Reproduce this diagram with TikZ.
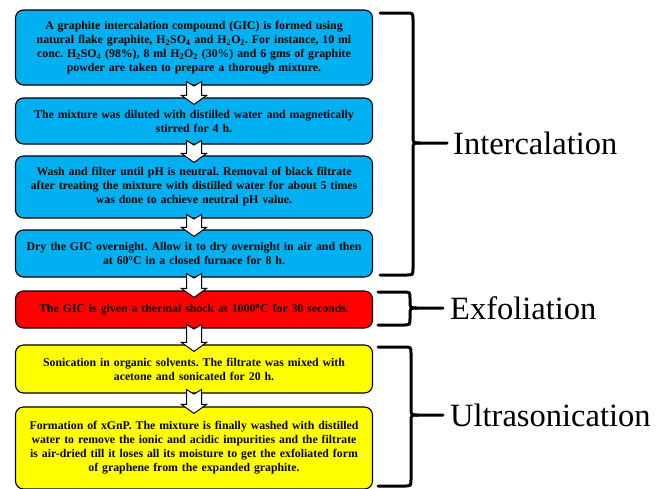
\documentclass[tikz,border=0pt]{standalone}
\usepackage{fontspec}
\setmainfont{Liberation Serif}
\usetikzlibrary{calc}
\definecolor{boxblue}{HTML}{00B0F0}
\definecolor{boxred}{HTML}{FF0000}
\definecolor{boxyellow}{HTML}{FFFF00}
\tikzset{
  stepbox/.style={draw=black, line width=1.1pt, rounded corners=8pt,
    minimum width=357pt, text width=350pt, align=center, inner sep=0pt,
    font=\fontsize{11.8}{14}\selectfont\bfseries\frenchspacing},
  barrow/.style={draw=black, fill=white, line width=1pt, line join=miter},
  bracepath/.style={draw=black, line width=3pt, line cap=round},
  phase/.style={anchor=west, inner sep=0pt, font=\fontsize{32.5}{36}\selectfont}
}
\newcommand\flowarrow[2]{%
  \draw[barrow] ($(#1.south)+(-7.5,-4)$) -- ($(#1.south)+(0,0.5)$) -- ($(#1.south)+(7.5,-4)$)
    -- ($(#2.north)+(7.5,-2)$) -- ($(#2.north)+(12.5,-2)$) -- ($(#2.north)+(0,7)$)
    -- ($(#2.north)+(-12.5,-2)$) -- ($(#2.north)+(-7.5,-2)$) -- cycle;}
% #1 left x, #2 vertical x, #3 top, #4 mid, #5 bottom, #6 tip end x
\newcommand\phasebrace[6]{%
  \draw[bracepath] (#1,#3) -- ({#2-7},#3) .. controls (#2,#3) .. (#2,{#3+7})
    -- (#2,{#4-7}) .. controls (#2,#4) .. ({#2+7},#4) -- (#6,#4);
  \draw[bracepath] ({#2+7},#4) .. controls (#2,#4) .. (#2,{#4+7})
    -- (#2,{#5-7}) .. controls (#2,#5) .. ({#2-7},#5) -- (#1,#5);}
\begin{document}
\begin{tikzpicture}[x=1pt,y=-1pt]
\useasboundingbox (0,0) rectangle (666,488);
\begin{scope}
\clip (0,0) rectangle (666,488);
\node[stepbox, fill=boxblue, minimum height=75pt] (b1) at (194,47.5)
  {A graphite intercalation compound (GIC) is formed using\\
   natural flake graphite, H\textsubscript{2}SO\textsubscript{4} and H\textsubscript{2}O\textsubscript{2}. For instance, 10 ml\\
   conc. H\textsubscript{2}SO\textsubscript{4} (98\%), 8 ml H\textsubscript{2}O\textsubscript{2} (30\%) and 6 gms of graphite\\
   powder are taken to prepare a thorough mixture.};
\node[stepbox, fill=boxblue, minimum height=46pt] (b2) at (194,121)
  {The mixture was diluted with distilled water and magnetically\\
   stirred for 4 h.};
\node[stepbox, fill=boxblue, minimum height=62pt] (b3) at (194,187)
  {Wash and filter until pH is neutral. Removal of black filtrate\\
   after treating the mixture with distilled water for about 5 times\\
   was done to achieve neutral pH value.};
\node[stepbox, fill=boxblue, minimum height=47pt] (b4) at (194,253.5)
  {Dry the GIC overnight. Allow it to dry overnight in air and then\\
   at 60\textsuperscript{o}C in a closed furnace for 8 h.};
\node[stepbox, fill=boxred, minimum height=37pt] (b5) at (194,309.5)
  {The GIC is given a thermal shock at 1000\textsuperscript{o}C for 30 seconds.};
\node[stepbox, fill=boxyellow, minimum height=48pt] (b6) at (194,369)
  {Sonication in organic solvents. The filtrate was mixed with\\
   acetone and sonicated for 20 h.};
\node[stepbox, fill=boxyellow, minimum height=82pt] (b7) at (194,448)
  {Formation of xGnP. The mixture is finally washed with distilled\\
   water to remove the ionic and acidic impurities and the filtrate\\
   is air-dried till it loses all its moisture to get the exfoliated form\\
   of graphene from the expanded graphite.};
\flowarrow{b1}{b2}
\flowarrow{b2}{b3}
\flowarrow{b3}{b4}
\flowarrow{b4}{b5}
\flowarrow{b5}{b6}
\flowarrow{b6}{b7}
\phasebrace{380}{413}{13}{143}{275}{447}
\phasebrace{378}{410}{292}{308}{325}{443}
\phasebrace{378}{411}{347}{415}{486}{443}
\end{scope}
\coordinate (t1) at (453,143);
\coordinate (t2) at (450,308);
\coordinate (t3) at (450,415);
\node[phase] (l1) at (t1) {Intercalation};
\node[phase] (l2) at (t2) {Exfoliation};
\node[phase] (l3) at (t3) {Ultrasonication};
\end{tikzpicture}
\end{document}
